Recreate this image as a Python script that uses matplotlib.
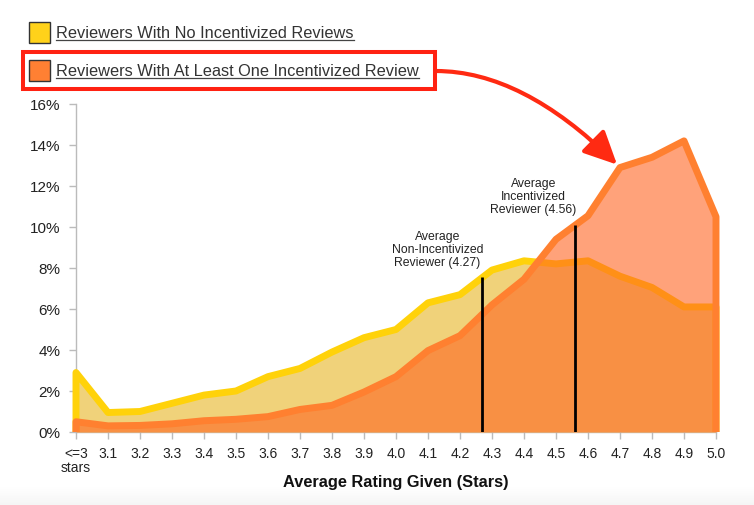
import numpy as np
import matplotlib
matplotlib.use('Agg')
import matplotlib.pyplot as plt
from matplotlib.patches import Rectangle
from matplotlib.lines import Line2D

plt.rcParams['font.family'] = ['Liberation Sans', 'DejaVu Sans']

W, H = 754, 506

# data (share of reviewers, %)
ratings = [3.0, 3.1, 3.2, 3.3, 3.4, 3.5, 3.6, 3.7, 3.8, 3.9, 4.0,
           4.1, 4.2, 4.3, 4.4, 4.5, 4.6, 4.7, 4.8, 4.9, 5.0]
tick_labels = ['<=3\nstars', '3.1', '3.2', '3.3', '3.4', '3.5', '3.6', '3.7', '3.8', '3.9', '4.0',
               '4.1', '4.2', '4.3', '4.4', '4.5', '4.6', '4.7', '4.8', '4.9', '5.0']
no_incent = [2.9, 0.95, 1.0, 1.4, 1.8, 2.0, 2.7, 3.1, 3.9, 4.6, 5.0,
             6.3, 6.7, 7.9, 8.35, 8.2, 8.35, 7.6, 7.05, 6.1, 6.1]
incent = [0.5, 0.3, 0.32, 0.4, 0.55, 0.62, 0.75, 1.1, 1.3, 1.95, 2.7,
          3.97, 4.7, 6.2, 7.45, 9.4, 10.55, 12.9, 13.4, 14.2, 10.5]
y_ticks = [0, 2, 4, 6, 8, 10, 12, 14, 16]

series_names = ['Reviewers With No Incentivized Reviews',
                'Reviewers With At Least One Incentivized Review']
avg_values = [4.27, 4.56]
avg_labels = ['Average\nNon-Incentivized\nReviewer (4.27)',
              'Average\nIncentivized\nReviewer (4.56)']

x = np.array(ratings)
y1 = np.array(no_incent)
y2 = np.array(incent)

fig = plt.figure(figsize=(W / 100, H / 100), dpi=100)
ax = fig.add_axes([76 / W, 1 - 433 / H, 640 / W, 328 / H])

# yellow series
ax.fill_between(x, 0, y1, color='#F0D27A', lw=0, zorder=1)
ax.plot(np.r_[x[0], x, x[-1]], np.r_[0, y1, 0], color='#FFD20A', lw=5,
        solid_capstyle='butt', clip_on=False, zorder=2)
# orange series, translucent over the yellow one
ax.fill_between(x, 0, y2, color='#FF6421', alpha=0.6, lw=0, zorder=3)
ax.plot(np.r_[x[0], x, x[-1]], np.r_[0, y2, 0], color='#FF8030', lw=5,
        solid_capstyle='butt', clip_on=False, zorder=4)

# average markers
tops = [np.interp(avg_values[0], x, y1), np.interp(avg_values[1], x, y2)]
text_dx = [-0.14, -0.13]
text_dy = [0.45, 0.5]
for v, top, lab, dx, dy in zip(avg_values, tops, avg_labels, text_dx, text_dy):
    ax.vlines(v, 0, top, color='black', lw=2, zorder=5)
    ax.text(v + dx, top + dy, lab, ha='center', va='bottom', fontsize=8.8,
            color='#222222', linespacing=1.1, zorder=6)

ax.set_xlim(3.0, 5.0)
ax.set_ylim(0, 16)
ax.set_xticks(ratings)
ax.set_xticklabels(tick_labels, linespacing=1.05)
ax.set_yticks(y_ticks)
ax.set_yticklabels(['{}%'.format(v) for v in y_ticks])
for s in ['top', 'right']:
    ax.spines[s].set_visible(False)
for s in ['left', 'bottom']:
    ax.spines[s].set_color('#BBBBBB')
    ax.spines[s].set_linewidth(1)
    ax.spines[s].set_zorder(0.5)
ax.tick_params(axis='y', length=5, width=1, color='#BBBBBB', labelsize=11,
               labelcolor='#222222', pad=6)
ax.tick_params(axis='x', length=5, width=1, color='#BBBBBB', labelsize=10,
               labelcolor='#222222', pad=5)
ax.set_xlabel('Average Rating Given (Stars)', fontsize=11.8, fontweight='bold',
              color='#111111', labelpad=0)

# legend drawn by hand
box_colors = ['#FFD21A', '#FF8033']
box_tops = [23, 61]
texts = []
for name, c, top in zip(series_names, box_colors, box_tops):
    fig.patches.append(Rectangle((29 / W, 1 - (top + 21) / H), 21 / W, 21 / H,
                                 transform=fig.transFigure, facecolor=c,
                                 edgecolor='#333333', lw=1))
    texts.append(fig.text(56 / W, 1 - (top + 10.5) / H, name, ha='left', va='center',
                          fontsize=11.8, color='#333333'))
fig.patches.append(Rectangle((23 / W, 1 - 90 / H), 412 / W, 37 / H,
                             transform=fig.transFigure, fill=False,
                             edgecolor='#FF2212', lw=2.9))

# arrow from the legend box to the peak
ax.annotate('', xy=(4.7, incent[17]), xycoords='data',
            xytext=(436 / W, 1 - 72 / H), textcoords='figure fraction',
            arrowprops=dict(arrowstyle='-|>,head_length=1.35,head_width=0.65',
                            connectionstyle='angle3,angleA=0,angleB=135',
                            color='#FF2A12', lw=3, shrinkA=0, shrinkB=3,
                            mutation_scale=15),
            annotation_clip=False, zorder=10)

# underline legend labels
fig.canvas.draw()
r = fig.canvas.get_renderer()
for t, top in zip(texts, box_tops):
    bb = t.get_window_extent(r)
    yy = 1 - (top + 17.5) / H
    fig.lines.append(Line2D([bb.x0 / W, bb.x1 / W], [yy, yy], transform=fig.transFigure,
                            color='#444444', lw=0.9))

# faint grey band at the bottom of the screenshot
bg = fig.add_axes([0, 0, 1, 18 / H], zorder=-1)
grad = np.linspace(0, 1, 50).reshape(-1, 1)
bg.imshow(grad, aspect='auto', cmap='Greys', vmin=0, vmax=12, origin='upper')
bg.axis('off')

fig.savefig('out.png', dpi=100)
